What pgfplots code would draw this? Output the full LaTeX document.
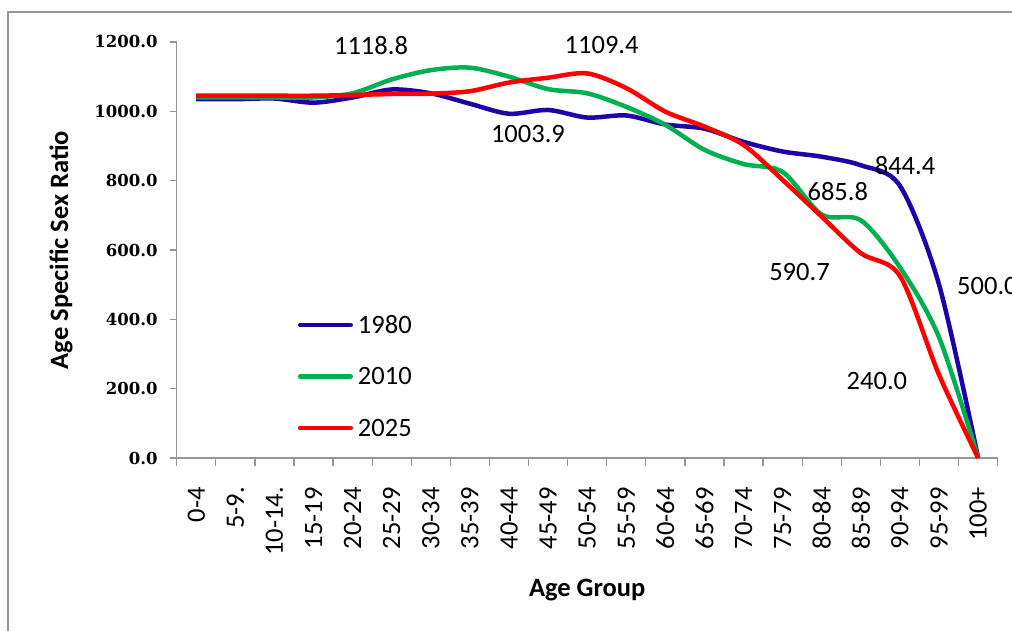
\documentclass[border=0pt]{standalone}
\usepackage{fontspec}
\setmainfont{Carlito}
\newfontfamily\tickfont{DejaVu Serif}
\usepackage{pgfplots}
\pgfplotsset{compat=1.18}

\definecolor{c1980}{RGB}{32,0,168}
\definecolor{c2010}{RGB}{0,176,80}
\definecolor{c2025}{RGB}{255,0,0}
\definecolor{axgray}{RGB}{150,150,150}

\newcommand{\lblfont}{\fontsize{26.5}{30}\selectfont}

\begin{document}
\begin{tikzpicture}
\path[use as bounding box] (0,0) rectangle (1012pt,631pt);
\draw[axgray, line width=1.5pt] (8pt,-5pt) -- (8pt,619pt) -- (1020pt,619pt);
\begin{axis}[
  at={(176.7pt,173pt)}, anchor=south west,
  scale only axis, width=821pt, height=416pt,
  xmin=-0.5, xmax=20.5, ymin=0, ymax=1200,
  clip=false,
  axis x line=bottom, axis y line=left,
  axis line style={-, axgray, line width=1.3pt},
  tick align=outside,
  xtick={0,...,20},
  xticklabels={0-4,5-9.,10-14.,15-19,20-24,25-29,30-34,35-39,40-44,45-49,50-54,55-59,60-64,65-69,70-74,75-79,80-84,85-89,90-94,95-99,100+},
  major x tick style={draw=none},
  minor xtick={-0.5,0.5,...,20.5},
  minor x tick style={axgray, line width=1.3pt},
  minor tick length=8pt,
  ytick={0,200,400,600,800,1000,1200},
  yticklabels={0.0,200.0,400.0,600.0,800.0,1000.0,1200.0},
  major y tick style={axgray, line width=1.3pt},
  major tick length=7pt,
  x tick label style={rotate=90, anchor=east, inner sep=0pt, xshift=-22pt, font=\lblfont, text=black},
  y tick label style={anchor=east, inner sep=0pt, xshift=-12pt, font=\tickfont\bfseries\fontsize{16.5}{19}\selectfont, text=black},
  xlabel={Age Group},
  ylabel={Age Specific Sex Ratio},
  every axis x label/.style={at={(axis description cs:0.5,-0.3173)}, anchor=center, font=\lblfont\bfseries},
  every axis y label/.style={at={(axis description cs:-0.1409,0.5)}, rotate=90, anchor=center, font=\lblfont\bfseries},
  legend style={draw=none, fill=none, inner sep=0pt, outer sep=0pt,
    at={(axis cs:2.602,407.7)}, anchor=north west,
    font=\lblfont, row sep=34.8pt, column sep=5pt,
    nodes={inner sep=0pt, text height=16.7pt, text depth=0pt}},
  legend cell align=left,
  legend image code/.code={\draw[#1, line cap=round] (2.25pt,0pt) -- (52.75pt,0pt);},
]
\addplot[c1980, line width=4.5pt, smooth] coordinates {
(0,1035) (1,1035) (2,1037) (3,1025) (4,1040) (5,1063) (6,1052) (7,1022)
(8,993) (9,1003.9) (10,982) (11,988) (12,962) (13,950) (14,912) (15,884)
(16,869) (17,844.4) (18,785) (19,500) (20,0)};
\addlegendentry{1980}
\addplot[c2010, line width=4.5pt, smooth] coordinates {
(0,1040) (1,1040) (2,1040) (3,1040) (4,1052) (5,1092) (6,1118.8) (7,1126)
(8,1100) (9,1064) (10,1052) (11,1013) (12,961) (13,889) (14,848) (15,825)
(16,702) (17,685.8) (18,550) (19,348) (20,0)};
\addlegendentry{2010}
\addplot[c2025, line width=4.5pt, smooth] coordinates {
(0,1045) (1,1045) (2,1045) (3,1045) (4,1047) (5,1050) (6,1051) (7,1058)
(8,1083) (9,1097) (10,1109.4) (11,1067) (12,999) (13,956) (14,903) (15,802)
(16,696) (17,590.7) (18,525) (19,240) (20,0)};
\addlegendentry{2025}
\node[font=\lblfont, inner sep=0pt] at (axis cs:4.47,1188.6) {1118.8};
\node[font=\lblfont, inner sep=0pt] at (axis cs:10.37,1191.5) {1109.4};
\node[font=\lblfont, inner sep=0pt] at (axis cs:8.485,934.7) {1003.9};
\node[font=\lblfont, inner sep=0pt] at (axis cs:18.13,843.9) {844.4};
\node[font=\lblfont, inner sep=0pt] at (axis cs:16.41,767.4) {685.8};
\node[font=\lblfont, inner sep=0pt] at (axis cs:15.43,536.6) {590.7};
\node[font=\lblfont, inner sep=0pt, anchor=west] at (axis cs:19.46,496.2) {500.0};
\node[font=\lblfont, inner sep=0pt] at (axis cs:17.41,222.1) {240.0};
\end{axis}
\end{tikzpicture}
\end{document}
